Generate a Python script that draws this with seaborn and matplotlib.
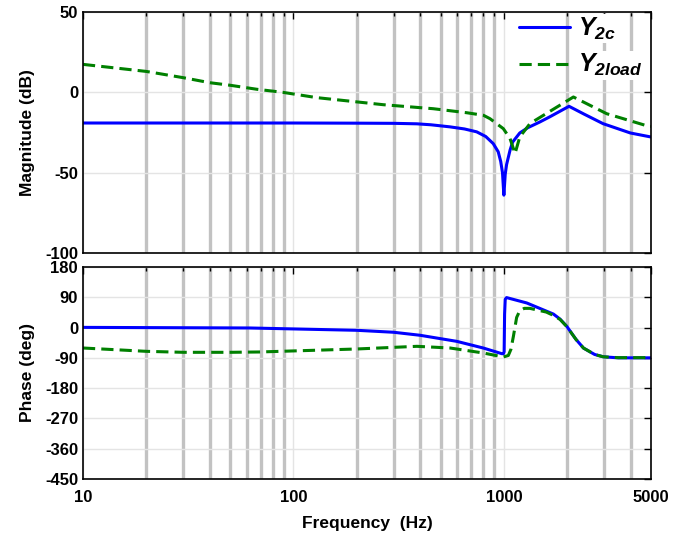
import matplotlib
matplotlib.use("Agg")
import matplotlib.pyplot as plt
import numpy as np
import pandas as pd
import seaborn as sns
from matplotlib.ticker import FixedLocator, FixedFormatter, NullFormatter

# magnitude, Y2c
mag_c_freq = [10, 100, 200, 300, 386, 450, 555, 650, 743, 820, 890, 940, 966, 985, 1000,
              1015, 1030, 1070, 1100, 1190, 1300, 1480, 1650, 2040, 2400, 2960, 3990, 5000]
mag_c_db = [-19.1, -19.1, -19.2, -19.3, -19.6, -20.2, -21.5, -22.8, -24.6, -27.5, -31.9,
            -37.0, -43.0, -50.0, -64.0, -51.0, -45.0, -36.0, -31.0, -25.3, -22.0, -18.5,
            -15.3, -8.7, -13.5, -19.5, -25.3, -27.8]

# magnitude, Y2load
mag_l_freq = [10, 20, 30, 40, 50, 67, 89, 129, 267, 462, 666, 800, 859, 994, 1070,
              1130, 1190, 1330, 1410, 2140, 3080, 4690, 5000]
mag_l_db = [17.4, 13.0, 9.1, 6.0, 4.4, 1.9, 0.0, -3.3, -7.7, -10.2, -12.7, -14.3, -16.4,
            -22.6, -28.8, -38.1, -27.8, -19.5, -17.4, -2.9, -13.3, -20.5, -21.2]

# phase, Y2c
ph_c_freq = [10, 62, 200, 299, 400, 597, 800, 977, 995, 1003, 1008, 1015, 1030, 1285,
             1720, 1850, 1990, 2200, 2390, 2700, 2970, 3500, 5000]
ph_c_deg = [0.5, -1.3, -8.2, -14.0, -23.0, -41.0, -61.0, -77.6, -78.0, -72.0, 40.0, 84.0,
            89.0, 73.0, 40.0, 25.0, 3.6, -35.0, -61.0, -80.0, -87.0, -90.0, -90.0]

# phase, Y2load
ph_l_freq = [10, 20, 30, 50, 69, 200, 386, 555, 800, 994, 1050, 1080, 1110, 1150, 1190,
             1250, 1330, 1590, 1720, 1850, 1990, 2200, 2390, 2700, 2970, 3500, 5000]
ph_l_deg = [-60.8, -70.7, -73.6, -73.6, -72.6, -63.7, -55.8, -60.8, -75.7, -87.5, -83.0,
            -65.0, -26.0, 30.0, 50.0, 57.0, 57.0, 46.0, 36.0, 24.0, 3.0, -35.0, -61.0,
            -80.0, -87.0, -89.5, -89.5]

series_names = ["$Y_{2c}$", "$Y_{2load}$"]
x_major = [10, 100, 1000, 5000]
x_minor = [20, 30, 40, 50, 60, 70, 80, 90, 200, 300, 400, 500, 600, 700, 800, 900,
           2000, 3000, 4000]
mag_ticks = [50, 0, -50, -100]
ph_ticks = [180, 90, 0, -90, -180, -270, -360, -450]

mag_df = pd.concat([
    pd.DataFrame({"f": mag_c_freq, "v": mag_c_db, "s": series_names[0]}),
    pd.DataFrame({"f": mag_l_freq, "v": mag_l_db, "s": series_names[1]}),
])
ph_df = pd.concat([
    pd.DataFrame({"f": ph_c_freq, "v": ph_c_deg, "s": series_names[0]}),
    pd.DataFrame({"f": ph_l_freq, "v": ph_l_deg, "s": series_names[1]}),
])

sns.set_style("white")
plt.rcParams["font.family"] = ["Liberation Sans", "DejaVu Sans"]
plt.rcParams["font.weight"] = "bold"
plt.rcParams["axes.unicode_minus"] = False
plt.rcParams["text.color"] = "black"
plt.rcParams["axes.labelcolor"] = "black"
plt.rcParams["xtick.color"] = "black"
plt.rcParams["ytick.color"] = "black"
plt.rcParams["mathtext.fontset"] = "custom"
plt.rcParams["mathtext.it"] = "Liberation Sans:italic:bold"
plt.rcParams["mathtext.rm"] = "Liberation Sans:italic:bold"
plt.rcParams["mathtext.bf"] = "Liberation Sans:italic:bold"

palette = {series_names[0]: "#0000ff", series_names[1]: "#008000"}
dashes = {series_names[0]: "", series_names[1]: (4, 2)}

fig = plt.figure(figsize=(6.84, 5.35), dpi=100)
ax1 = fig.add_axes([0.1213, 0.5271, 0.8304, 0.4505])
ax2 = fig.add_axes([0.1213, 0.1047, 0.8304, 0.3963])


def style_axes(ax, yticks, ylim, ylabel):
    ax.set_xscale("log")
    ax.set_xlim(10, 5000)
    ax.set_ylim(*ylim)
    ax.xaxis.set_major_locator(FixedLocator(x_major))
    ax.xaxis.set_minor_locator(FixedLocator(x_minor))
    ax.xaxis.set_minor_formatter(NullFormatter())
    ax.set_yticks(yticks)
    ax.set_axisbelow(True)
    ax.grid(True, which="minor", axis="x", color="#b8b8b8", linewidth=2.4, alpha=0.85)
    ax.grid(True, which="major", axis="x", color="#e4e4e4", linewidth=1.0)
    ax.grid(True, which="major", axis="y", color="#e4e4e4", linewidth=1.0)
    ax.tick_params(which="both", direction="in", top=True, right=True,
                   labelsize=12, width=1)
    ax.tick_params(which="major", length=5)
    ax.tick_params(which="minor", length=3)
    for sp in ax.spines.values():
        sp.set_linewidth(1.2)
        sp.set_color("black")
    ax.set_ylabel(ylabel, fontsize=12.5, fontweight="bold")
    ax.yaxis.set_label_coords(-0.085, 0.5)
    for lab in ax.get_yticklabels() + ax.get_xticklabels():
        lab.set_fontweight("bold")


sns.lineplot(data=mag_df, x="f", y="v", hue="s", style="s", palette=palette,
             dashes=dashes, estimator=None, linewidth=2.2, ax=ax1)
sns.lineplot(data=ph_df, x="f", y="v", hue="s", style="s", palette=palette,
             dashes=dashes, estimator=None, linewidth=2.2, ax=ax2, legend=False)

style_axes(ax1, mag_ticks, (-100, 50), "Magnitude (dB)")
style_axes(ax2, ph_ticks, (-450, 180), "Phase (deg)")
ax1.set_xlabel("")
ax1.xaxis.set_major_formatter(NullFormatter())
ax2.xaxis.set_major_formatter(FixedFormatter([str(v) for v in x_major]))
for lab in ax2.get_xticklabels():
    lab.set_fontweight("bold")
ax2.tick_params(axis="x", which="major", pad=8)
ax2.set_xlabel("Frequency  (Hz)", fontsize=12.5, fontweight="bold", labelpad=8)

leg = ax1.legend(loc="upper right", bbox_to_anchor=(0.985, 0.985), frameon=False,
                 fontsize=18, handlelength=2.05, borderaxespad=0.0, borderpad=0.0,
                 labelspacing=0.42, handletextpad=0.3)
for t in leg.get_texts():
    t.set_bbox(dict(facecolor="white", edgecolor="none", pad=1))

fig.savefig("out.png", dpi=100)
